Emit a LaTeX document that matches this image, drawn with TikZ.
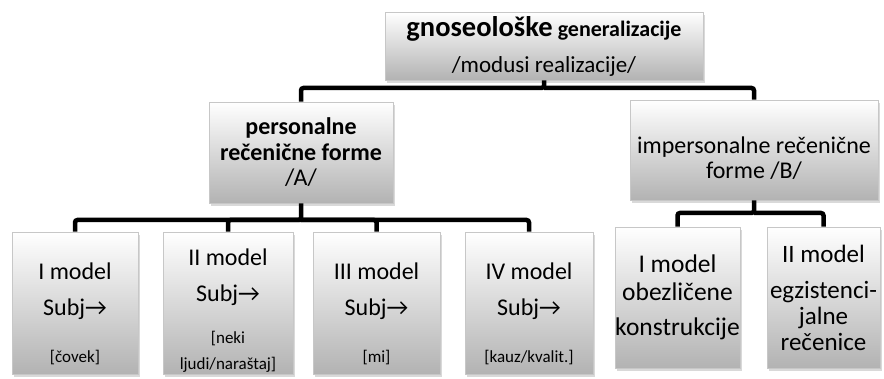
\documentclass[tikz,border=0pt]{standalone}
\usepackage{fontspec}
\setmainfont{Carlito}
\usetikzlibrary{shadows}

\begin{document}
\begin{tikzpicture}[x=1pt,y=-1pt,
    box/.style={rectangle,top color=white,middle color=black!5,bottom color=black!30,draw=black!22,line width=0.6pt,
        drop shadow={shadow xshift=1.5pt,shadow yshift=-3pt,opacity=0.3},
        align=center,inner sep=0pt,text=black,font=\fontsize{24}{31}\selectfont},
    wire/.style={line width=4.5pt,rounded corners=2.5pt}]
    \useasboundingbox (0,0) rectangle (884,379);
    \node[box,minimum width=318pt,minimum height=68pt,font=\fontsize{23}{36}\selectfont] (gen) at (544,46)
        {\textbf{\fontsize{28.5}{36}\selectfont gnoseološke} \textbf{\fontsize{22}{36}\selectfont generalizacije}\\/modusi realizacije/};
    \node[box,minimum width=184pt,minimum height=101pt,font=\fontsize{24}{25.5}\selectfont] (pers) at (301,152.5)
        {\textbf{personalne}\\\textbf{rečenične forme}\\/A/};
    \node[box,minimum width=248pt,minimum height=100pt,font=\fontsize{24}{25.5}\selectfont] (imp) at (754,150)
        {\mbox{}\\[8pt]impersonalne rečenične\\forme /B/};
    \node[box,minimum width=126pt,minimum height=142pt] (m1) at (75,303)
        {\mbox{}\\[7pt]I model\\[5pt]Subj→\\[16pt]{\fontsize{17}{26}\selectfont [čovek]}};
    \node[box,minimum width=130pt,minimum height=142pt] (m2) at (228,303)
        {\mbox{}\\II model\\[5pt]Subj→\\[11pt]{\fontsize{17}{26}\selectfont [neki}\\[-5pt]{\fontsize{17}{26}\selectfont ljudi/naraštaj]}};
    \node[box,minimum width=127pt,minimum height=142pt] (m3) at (376.5,303)
        {\mbox{}\\[7pt]III model\\[5pt]Subj→\\[16pt]{\fontsize{17}{26}\selectfont [mi]}};
    \node[box,minimum width=128pt,minimum height=142pt] (m4) at (529,303)
        {\mbox{}\\[7pt]IV model\\[5pt]Subj→\\[16pt]{\fontsize{17}{26}\selectfont [kauz/kvalit.]}};
    \node[box,minimum width=125pt,minimum height=141pt,font=\fontsize{25.5}{31}\selectfont] (n1) at (677.5,297.5)
        {I model\\[-3pt]obezličene\\[4pt]konstrukcije};
    \node[box,minimum width=113pt,minimum height=141pt,font=\fontsize{25}{31}\selectfont] (n2) at (823.5,297.5)
        {II model\\[5pt]egzistenci-\\[-5pt]jalne\\[-5pt]rečenice};
    \coordinate (j0) at (544,88);
    \coordinate (j1) at (301,220);
    \coordinate (j2) at (754,213);
    \draw[wire] (gen.south) -- (j0) -| (pers.north);
    \draw[wire] (j0) -| (imp.north);
    \draw[wire] (pers.south) -- (j1) -| (m1.north);
    \draw[wire] (j1) -| (m2.north);
    \draw[wire] (j1) -| (m3.north);
    \draw[wire] (j1) -| (m4.north);
    \draw[wire] (imp.south) -- (j2) -| (n1.north);
    \draw[wire] (j2) -| (n2.north);
\end{tikzpicture}
\end{document}
